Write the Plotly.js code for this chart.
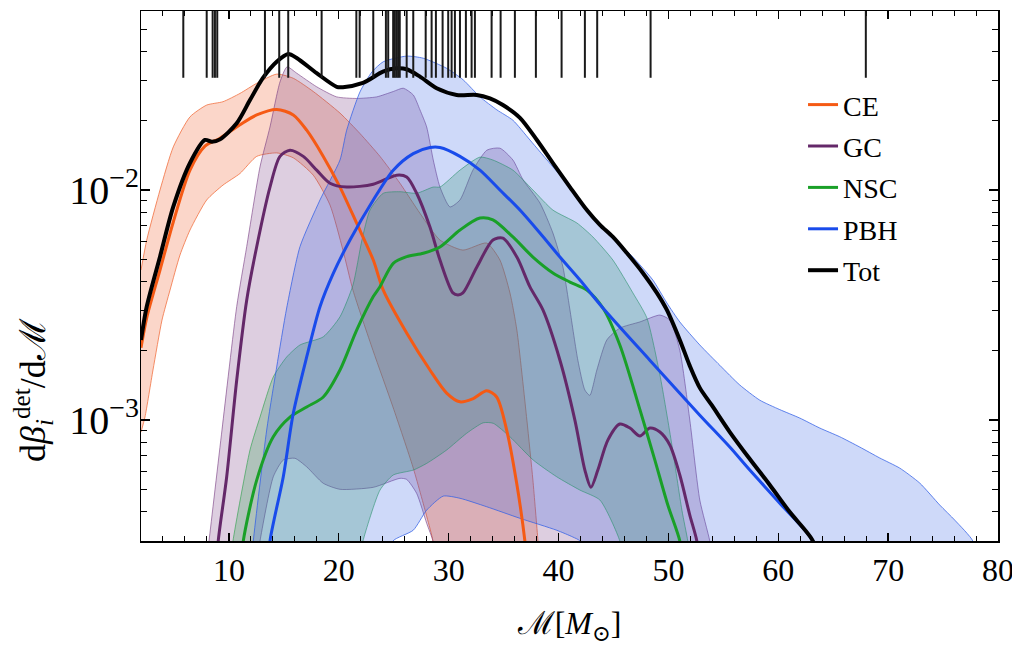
<!DOCTYPE html>
<html>
<head>
<meta charset="utf-8">
<script src="https://cdn.plot.ly/plotly-3.0.1.min.js"></script>
<style>html,body{margin:0;padding:0;background:#fff;}#chart{width:1012px;height:646px;}</style>
</head>
<body>
<div id="chart"></div>
<script>
// Event chirp masses (rug at top)
const rugX = [5.85, 7.98, 8.52, 8.73, 8.94, 13.28, 14.58, 15.40, 18.44, 21.6, 21.9, 23.14, 24.29, 24.50, 24.95, 25.10, 25.25, 25.40, 25.55, 26.18, 26.78, 27.91, 28.45, 28.84, 29.45, 29.96, 30.27, 30.57, 31.03, 31.57, 32.09, 32.39, 33.91, 34.73, 36.03, 37.94, 40.28, 42.40, 43.52, 48.38, 67.97];

// CE
const ceX = [2.0, 2.52, 3.73, 4.94, 6.46, 7.82, 9.19, 11.01, 12.53, 14.35, 15.86, 17.08, 18.59, 20.11, 21.63, 23.14, 24.05, 26.18, 28.30, 29.82, 31.03, 32.24, 33.46, 34.37, 35.28, 36.19, 36.94, 37.2];
const ceY = [0.00206, 0.00278, 0.00449, 0.00726, 0.0122, 0.0155, 0.0168, 0.0192, 0.0212, 0.0224, 0.0212, 0.0182, 0.0140, 0.0103, 0.00717, 0.00496, 0.00367, 0.00239, 0.00165, 0.00131, 0.00120, 0.00124, 0.00134, 0.00126, 0.000905, 0.000532, 0.000298, 0.00022];
const ceHiX = [2.0, 2.52, 3.73, 4.94, 6.46, 7.98, 9.46, 11.01, 12.53, 14.35, 15.86, 17.68, 20.11, 21.93, 23.75, 25.57, 27.39, 29.21, 31.30, 33.46, 34.67, 35.58, 36.21, 37.12, 37.67, 38.13, 38.4];
const ceHiY = [0.00449, 0.00606, 0.0100, 0.0154, 0.0208, 0.0234, 0.0242, 0.0263, 0.0291, 0.0319, 0.0306, 0.0268, 0.0216, 0.0176, 0.0140, 0.0107, 0.00792, 0.00606, 0.00548, 0.00588, 0.00496, 0.00357, 0.00246, 0.00100, 0.000548, 0.000298, 0.0002];
const ceLoX = [2.0, 2.36, 3.09, 3.91, 4.64, 5.55, 6.46, 7.98, 9.46, 11.01, 12.53, 14.35, 15.86, 17.68, 19.20, 20.38, 21.29, 23.11, 24.93, 26.75, 28.02, 28.57, 28.84];
const ceLoY = [0.000887, 0.00103, 0.00165, 0.00272, 0.00367, 0.00522, 0.00670, 0.00905, 0.0105, 0.0118, 0.0140, 0.0145, 0.0138, 0.0116, 0.00861, 0.00548, 0.00367, 0.00201, 0.00114, 0.000625, 0.000379, 0.000298, 0.0002];

// GC
const gcX = [8.95, 9.03, 9.80, 10.71, 11.62, 12.53, 13.74, 14.65, 15.56, 16.77, 17.99, 19.20, 20.72, 23.14, 25.27, 26.18, 27.09, 28.30, 29.21, 30.39, 30.85, 31.30, 32.57, 34.03, 34.94, 36.21, 37.40, 38.58, 40.13, 41.49, 42.40, 42.95, 43.58, 44.49, 45.58, 46.50, 47.41, 48.31, 49.23, 50.13, 51.04, 51.95, 52.59, 52.75];
const gcY = [0.00025, 0.000298, 0.000567, 0.00149, 0.00332, 0.00567, 0.0103, 0.0140, 0.0149, 0.0140, 0.0122, 0.0107, 0.0103, 0.0106, 0.0116, 0.0114, 0.00968, 0.00690, 0.00496, 0.00357, 0.00350, 0.00357, 0.00463, 0.00606, 0.00618, 0.00511, 0.00379, 0.00301, 0.00182, 0.00100, 0.000606, 0.000510, 0.000606, 0.000818, 0.000961, 0.000923, 0.000852, 0.000923, 0.000887, 0.000779, 0.000577, 0.000386, 0.000298, 0.00025];
const gcHiX = [8.0, 8.19, 9.37, 10.71, 11.62, 12.83, 13.74, 14.65, 15.29, 16.17, 17.99, 19.81, 21.63, 23.45, 24.96, 25.87, 26.78, 27.39, 28.00, 28.60, 29.21, 30.12, 31.03, 32.21, 33.48, 34.67, 35.85, 36.76, 38.31, 39.49, 40.40, 41.04, 41.76, 42.40, 42.85, 43.49, 44.40, 45.58, 47.41, 49.23, 50.13, 51.04, 51.95, 52.86, 53.77, 54.0];
const gcHiY = [0.00025, 0.000298, 0.000905, 0.00311, 0.00567, 0.0126, 0.0188, 0.0295, 0.0343, 0.0322, 0.0281, 0.0254, 0.0250, 0.0254, 0.0268, 0.0277, 0.0259, 0.0223, 0.0188, 0.0135, 0.0103, 0.00844, 0.00905, 0.0122, 0.0149, 0.0152, 0.0135, 0.0111, 0.00878, 0.00650, 0.00463, 0.00301, 0.00182, 0.00135, 0.00128, 0.00165, 0.00223, 0.00251, 0.00267, 0.00286, 0.00272, 0.00201, 0.00100, 0.000449, 0.000298, 0.00025];
const gcLoX = [12.6, 12.83, 14.04, 14.95, 16.01, 17.08, 18.59, 20.11, 23.14, 25.57, 26.18, 27.09, 28.00, 28.57, 28.75];
const gcLoY = [0.00025, 0.000298, 0.000567, 0.000670, 0.000682, 0.000626, 0.000531, 0.000500, 0.000510, 0.000558, 0.000552, 0.000480, 0.000356, 0.000298, 0.00025];

// NSC
const nscX = [11.2, 11.31, 12.53, 14.04, 15.56, 17.08, 18.59, 20.11, 21.63, 23.14, 23.75, 24.96, 26.18, 27.69, 29.21, 31.03, 32.85, 34.03, 35.85, 37.67, 39.49, 41.04, 42.58, 44.04, 45.58, 47.41, 48.77, 49.95, 51.04, 51.2];
const nscY = [0.00025, 0.000298, 0.000548, 0.000846, 0.00103, 0.00114, 0.00126, 0.00165, 0.00246, 0.00344, 0.00380, 0.00480, 0.00513, 0.00531, 0.00565, 0.00670, 0.00755, 0.00741, 0.00625, 0.00511, 0.00436, 0.00398, 0.00367, 0.00307, 0.00212, 0.00111, 0.000670, 0.000427, 0.000298, 0.00025];
const nscHiX = [10.2, 10.37, 11.92, 12.83, 14.04, 15.26, 16.47, 18.59, 20.11, 21.29, 22.11, 22.84, 24.05, 25.57, 27.09, 28.60, 29.21, 31.03, 32.85, 34.03, 35.85, 37.67, 39.49, 41.67, 43.13, 44.95, 46.77, 48.04, 49.23, 50.32, 51.23, 51.77, 52.0];
const nscHiY = [0.00025, 0.000298, 0.000741, 0.00103, 0.00154, 0.00188, 0.00212, 0.00230, 0.00281, 0.00386, 0.00606, 0.00818, 0.00968, 0.00983, 0.00968, 0.0103, 0.0103, 0.0122, 0.0139, 0.0135, 0.0122, 0.0100, 0.00818, 0.00719, 0.00625, 0.00496, 0.00357, 0.00278, 0.00157, 0.000779, 0.000406, 0.000298, 0.00025];
const nscLoX = [21.9, 22.20, 23.75, 24.96, 26.78, 28.00, 29.82, 31.64, 33.15, 34.06, 35.58, 37.70, 39.83, 41.95, 43.77, 45.58, 45.76];
const nscLoY = [0.00025, 0.000298, 0.000496, 0.000577, 0.000606, 0.000648, 0.000741, 0.000876, 0.000973, 0.000968, 0.000846, 0.000670, 0.000567, 0.000496, 0.000449, 0.000298, 0.00025];

// PBH
const pbhX = [13.69, 13.74, 14.95, 15.86, 17.08, 18.29, 19.50, 21.02, 23.14, 24.96, 26.78, 28.30, 29.21, 31.03, 32.85, 34.67, 36.49, 38.31, 40.13, 41.95, 44.04, 48.31, 52.86, 55.59, 57.41, 60.14, 63.15, 63.4];
const pbhY = [0.00025, 0.000298, 0.000567, 0.00107, 0.00188, 0.00311, 0.00434, 0.00606, 0.00905, 0.0122, 0.0144, 0.0153, 0.0153, 0.0140, 0.0122, 0.0100, 0.00818, 0.00650, 0.00511, 0.00406, 0.00307, 0.00182, 0.00105, 0.000763, 0.000606, 0.000435, 0.000298, 0.00025];
const pbhHiX = [12.1, 12.22, 13.44, 14.35, 15.26, 16.47, 18.29, 20.11, 20.72, 21.93, 23.02, 24.05, 26.18, 27.69, 29.82, 31.33, 32.85, 34.39, 35.85, 37.40, 39.49, 41.31, 43.13, 44.95, 46.77, 48.59, 49.86, 51.04, 52.86, 54.68, 56.50, 58.32, 60.14, 61.96, 63.78, 65.60, 67.42, 69.24, 71.06, 72.88, 74.70, 76.07, 77.71, 77.9];
const pbhHiY = [0.00025, 0.000298, 0.000905, 0.00170, 0.00307, 0.00567, 0.00905, 0.0135, 0.0182, 0.0267, 0.0326, 0.0361, 0.0382, 0.0374, 0.0338, 0.0301, 0.0254, 0.0223, 0.0201, 0.0165, 0.0126, 0.0100, 0.00763, 0.00625, 0.00511, 0.00406, 0.00323, 0.00267, 0.00212, 0.00173, 0.00142, 0.00122, 0.00111, 0.00102, 0.000923, 0.000846, 0.000763, 0.000684, 0.000618, 0.000532, 0.000427, 0.000367, 0.000298, 0.00025];
const pbhLoX = [24.7, 24.93, 26.78, 28.00, 29.51, 31.03, 33.46, 36.49, 39.83, 41.31, 41.95, 42.1];
const pbhLoY = [0.00025, 0.000298, 0.000332, 0.000406, 0.000467, 0.000457, 0.000420, 0.000374, 0.000332, 0.000310, 0.000298, 0.00025];

// Total
const totX = [2.0, 2.52, 3.73, 4.94, 6.46, 7.82, 8.46, 9.19, 10.71, 11.92, 13.10, 14.35, 15.40, 16.17, 17.99, 19.81, 20.38, 22.20, 24.02, 25.27, 26.18, 27.39, 28.91, 30.73, 32.55, 33.76, 34.94, 36.49, 38.03, 39.49, 41.04, 42.58, 43.77, 44.95, 46.22, 47.68, 48.95, 49.86, 51.04, 51.95, 52.86, 53.95, 55.59, 57.41, 59.23, 61.05, 63.15, 63.4];
const totY = [0.00223, 0.00311, 0.00513, 0.00846, 0.0131, 0.0165, 0.0162, 0.0166, 0.0195, 0.0246, 0.0307, 0.0361, 0.0390, 0.0375, 0.0322, 0.0281, 0.0280, 0.0292, 0.0327, 0.0338, 0.0335, 0.0311, 0.0277, 0.0259, 0.0259, 0.0250, 0.0234, 0.0206, 0.0165, 0.0131, 0.0103, 0.00818, 0.00705, 0.00625, 0.00532, 0.00436, 0.00357, 0.00301, 0.00223, 0.00172, 0.00138, 0.00116, 0.000887, 0.000677, 0.000522, 0.000398, 0.000298, 0.00025];

const names = ['CE', 'GC', 'NSC', 'PBH', 'Tot'];

function band(hx, hy, lx, ly, rgb, fa, la) {
  return {
    x: hx.concat(lx.slice().reverse()),
    y: hy.concat(ly.slice().reverse()),
    type: 'scatter', mode: 'lines', fill: 'toself',
    fillcolor: 'rgba(' + rgb + ',' + fa + ')',
    line: {color: 'rgba(' + rgb + ',' + la + ')', width: 1, shape: 'spline', smoothing: 0.6},
    showlegend: false, hoverinfo: 'skip'
  };
}
function curve(x, y, name, color, w) {
  return {x: x, y: y, type: 'scatter', mode: 'lines', name: name, legendgroup: name,
    line: {color: color, width: w, shape: 'spline', smoothing: 0.8}};
}

const data = [
  band(ceHiX, ceHiY, ceLoX, ceLoY, '240,105,55', 0.27, 0.75),
  band(gcHiX, gcHiY, gcLoX, gcLoY, '120,60,130', 0.25, 0.6),
  band(nscHiX, nscHiY, nscLoX, nscLoY, '40,160,70', 0.25, 0.6),
  band(pbhHiX, pbhHiY, pbhLoX, pbhLoY, '50,95,230', 0.24, 0.75),
  curve(ceX, ceY, names[0], 'rgb(245,90,20)', 3),
  curve(gcX, gcY, names[1], 'rgb(100,40,105)', 3),
  curve(nscX, nscY, names[2], 'rgb(25,160,40)', 3),
  curve(pbhX, pbhY, names[3], 'rgb(25,75,235)', 3),
  curve(totX, totY, names[4], 'black', 4)
];

const shapes = rugX.map(v => ({type: 'line', xref: 'x', yref: 'paper', x0: v, x1: v, y0: 0.874, y1: 1,
  line: {color: '#1a1a1a', width: 2}}));

const fontFam = '"Liberation Serif", "DejaVu Serif", serif';
const layout = {
  width: 1012, height: 646,
  margin: {l: 141, r: 14, t: 11, b: 105},
  paper_bgcolor: 'white', plot_bgcolor: 'white',
  font: {family: fontFam, color: 'black'},
  showlegend: true,
  legend: {x: 0.7725, y: 0.87, xanchor: 'left', yanchor: 'top', font: {size: 28, family: fontFam},
    bgcolor: 'rgba(0,0,0,0)', borderwidth: 0, traceorder: 'grouped', tracegroupgap: 2},
  xaxis: {
    range: [2, 80], tick0: 0, dtick: 10, ticks: 'inside', ticklen: 8, tickwidth: 1.3, tickcolor: 'black',
    minor: {dtick: 2, ticks: 'inside', ticklen: 5, tickwidth: 1, tickcolor: 'black'},
    showline: true, linecolor: 'black', linewidth: 1.5, mirror: 'allticks',
    showgrid: false, zeroline: false, automargin: false, ticklabeloverflow: 'allow',
    tickfont: {size: 32, family: fontFam},
    title: {text: 'ℳ[<i>M</i><sub>⊙</sub>]', font: {size: 32, family: fontFam}, standoff: 26}
  },
  yaxis: {
    type: 'log', range: [Math.log10(0.000298), Math.log10(0.06)], dtick: 1,
    exponentformat: 'power', showexponent: 'all',
    ticks: 'inside', ticklen: 9, tickwidth: 1.3, tickcolor: 'black',
    minor: {dtick: 'D1', ticks: 'inside', ticklen: 6, tickwidth: 1, tickcolor: 'black'},
    showline: true, linecolor: 'black', linewidth: 1.5, mirror: 'allticks',
    showgrid: false, zeroline: false, automargin: false, ticklabelstandoff: -6,
    tickfont: {size: 32, family: fontFam}
  },
  annotations: [{
    text: 'd<i>β</i><sub><i>i</i></sub><sup>det</sup>/dℳ', textangle: -90,
    xref: 'paper', yref: 'paper', x: -0.126, y: 0.285, xanchor: 'center', yanchor: 'middle',
    showarrow: false, font: {size: 36, family: fontFam, color: 'black'}
  }],
  shapes: shapes
};

Plotly.newPlot('chart', data, layout, {displayModeBar: false, staticPlot: true});
</script>
</body>
</html>
